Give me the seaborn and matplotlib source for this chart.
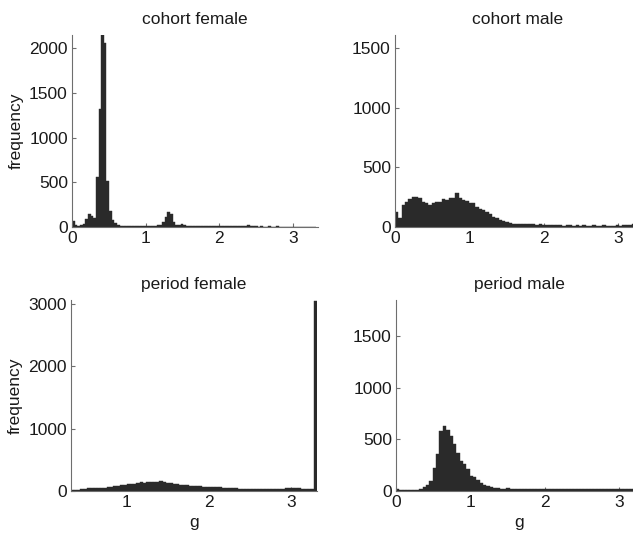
import numpy as np
import pandas as pd
import matplotlib
matplotlib.use("Agg")
import matplotlib.pyplot as plt
import seaborn as sns

# ---------------- data (bin counts) ----------------
titles = ["cohort female", "cohort male", "period female", "period male"]

# cohort female: bins of width 0.036 starting at 0
cf_start, cf_width = 0.0, 0.036
cf_counts = [67, 15, 12, 15, 25, 90, 145, 120, 95, 553, 1319, 2250, 2063, 515, 180,
             75, 40, 15, 8, 6, 5, 8, 5, 4, 6, 10, 5, 6, 8, 10, 12, 10, 14, 20, 50,
             110, 160, 140, 55, 20, 15, 30, 15, 8, 6, 5, 7, 5, 4, 6, 5, 4, 3, 5, 4,
             3, 4, 3, 5, 3, 4, 3, 5, 4, 6, 10, 15, 8, 4, 3, 2, 3, 2, 2, 3, 2, 2,
             3, 2, 2, 1, 2, 2, 1, 2, 1, 2, 1, 1, 2, 1, 1]

# cohort male: bins of width 0.045 starting at 0
cm_start, cm_width = 0.0, 0.045
cm_counts = [126, 76, 183, 210, 233, 247, 247, 239, 210, 196, 183, 196, 205, 210,
             230, 225, 239, 244, 281, 244, 225, 219, 197, 202, 163, 149, 140, 121,
             104, 80, 70, 56, 50, 42, 30, 25, 22, 20, 22, 20, 22, 20, 18, 20, 15,
             14, 12, 13, 11, 12, 10, 12, 11, 10, 12, 10, 11, 9, 10, 12, 10, 9, 11,
             10, 9, 10, 12, 10, 11, 12, 15, 20]

# period female: bins of width 0.04 starting at 0.315
pf_start, pf_width = 0.315, 0.04
pf_counts = [8, 10, 14, 20, 28, 36, 40, 42, 44, 46, 48, 55, 65, 78, 82, 88, 95,
             100, 105, 115, 128, 134, 130, 138, 142, 146, 148, 150, 140, 128, 118,
             112, 104, 96, 91, 86, 82, 78, 75, 70, 66, 60, 58, 62, 55, 54, 50, 46,
             42, 38, 36, 34, 32, 33, 30, 32, 30, 28, 27, 28, 26, 27, 30, 32, 34,
             36, 40, 44, 48, 40, 34, 30, 32, 30, 3050]

# period male: bins of width 0.045 starting at 0
pm_start, pm_width = 0.0, 0.045
pm_counts = [20, 3, 2, 2, 2, 3, 5, 15, 40, 56, 90, 220, 360, 580, 630, 590, 530,
             450, 368, 290, 263, 214, 145, 132, 105, 79, 56, 49, 38, 30, 22, 20,
             18, 22, 20, 18, 15, 15, 18, 17, 15, 16, 18, 15, 14, 16, 15, 17, 14,
             15, 16, 14, 13, 15, 16, 17, 15, 14, 13, 12, 14, 13, 12, 14, 15, 13,
             12, 14, 15, 16, 15, 20]

xlims = [(0, 3.34), (0, 3.31), (0.32, 3.31), (0, 3.31)]
ylims = [(0, 2150), (0, 1610), (0, 3070), (0, 1850)]
yticks = [[0, 500, 1000, 1500, 2000], [0, 500, 1000, 1500],
          [0, 1000, 2000, 3000], [0, 500, 1000, 1500]]
xticks = [[0, 1, 2, 3], [0, 1, 2, 3], [1, 2, 3], [0, 1, 2, 3]]

# ---------------- style ----------------
sns.set_style("ticks")
plt.rcParams["font.family"] = ["Liberation Sans", "DejaVu Sans"]
plt.rcParams["font.size"] = 12

W, H = 633, 534
fig = plt.figure(figsize=(W / 100, H / 100), dpi=100)

# axes rectangles in pixels: left, top, right, bottom
rects = [(72, 35, 318, 226.7), (395, 35, 641, 226.7),
         (71, 300, 317, 490.7), (396, 300, 642, 490.7)]

datasets = [(cf_start, cf_width, cf_counts), (cm_start, cm_width, cm_counts),
            (pf_start, pf_width, pf_counts), (pm_start, pm_width, pm_counts)]

bar_color = "#2a2a2a"
spine_color = "#6e6e6e"

for k, ((l, t, r, b), (start, width, counts)) in enumerate(zip(rects, datasets)):
    ax = fig.add_axes([l / W, (H - b) / H, (r - l) / W, (b - t) / H])
    n = len(counts)
    edges = [float(start + width * i) for i in range(n + 1)]
    centers = [(edges[i] + edges[i + 1]) / 2 for i in range(n)]
    df = pd.DataFrame({"g": centers, "count": counts})
    sns.histplot(data=df, x="g", weights="count", bins=edges, ax=ax,
                 color=bar_color, edgecolor=bar_color, linewidth=0.3, alpha=1.0)
    ax.set_xlim(*xlims[k])
    ax.set_ylim(*ylims[k])
    ax.set_xticks(xticks[k])
    ax.set_yticks(yticks[k])
    ax.set_title(titles[k], fontsize=12.5, pad=8, color="#1a1a1a")
    sns.despine(ax=ax)
    for s in ("left", "bottom"):
        ax.spines[s].set_color(spine_color)
        ax.spines[s].set_linewidth(0.8)
    ax.tick_params(direction="in", length=3, width=0.8, color=spine_color,
                   labelsize=12.5, labelcolor="#1a1a1a", pad=3)
    ax.set_ylabel("frequency" if k in (0, 2) else "", fontsize=12.5, color="#1a1a1a")
    ax.set_xlabel("g" if k in (2, 3) else "", fontsize=12.5, color="#1a1a1a")

fig.savefig("out.png", dpi=100)
